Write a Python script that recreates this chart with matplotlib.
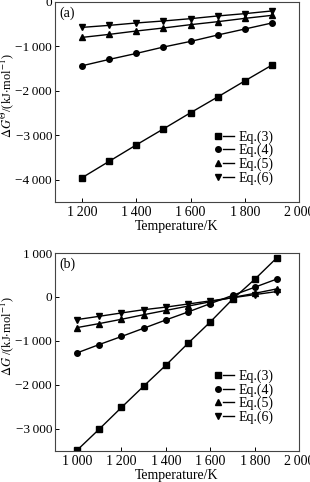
import matplotlib
matplotlib.use("Agg")
import matplotlib.pyplot as plt
from matplotlib.lines import Line2D
from matplotlib.legend_handler import HandlerTuple
from matplotlib.ticker import FuncFormatter

plt.rcParams['font.family'] = ['Liberation Serif', 'DejaVu Serif']
plt.rcParams['mathtext.fontset'] = 'stix'

# Panel (a) data
temp_a = [1200, 1300, 1400, 1500, 1600, 1700, 1800, 1900]
eq3_a = [-3960, -3590, -3220, -2860, -2495, -2140, -1778, -1422]
eq4_a = [-1438, -1295, -1160, -1016, -889, -745, -610, -474]
eq5_a = [-799, -731, -655, -587, -512, -445, -370, -302]
eq6_a = [-573, -528, -474, -429, -377, -316, -264, -203]

# Panel (b) data
temp_b = [1000, 1100, 1200, 1300, 1400, 1500, 1600, 1700, 1800, 1900]
eq3_b = [-3490, -3008, -2515, -2030, -1553, -1053, -568, -53, 402, 894]
eq4_b = [-1273, -1083, -900, -712, -523, -341, -151, 36, 222, 409]
eq5_b = [-697, -606, -508, -404, -306, -208, -110, -12, 83, 184]
eq6_b = [-515, -440, -364, -290, -231, -160, -89, -18, 53, 124]

labels = ['Eq.(3)', 'Eq.(4)', 'Eq.(5)', 'Eq.(6)']
markers = ['s', 'o', '^', 'v']

def fmt(v, pos):
    v = int(round(v))
    s = f"{abs(v):,}".replace(",", "\u2009")
    return ("\u2212" + s) if v < 0 else s

fig = plt.figure(figsize=(3.1, 4.82), dpi=100)
ax1 = fig.add_axes([0.177, 0.5815, 0.788, 0.4145])
ax2 = fig.add_axes([0.177, 0.065, 0.788, 0.410])

fs = 10

def draw(ax, x, series, xlim, ylim, xticks, yticks, ylabel, tag, ly, leg_y):
    for ys, m in zip(series, markers):
        ax.plot(x, ys, color='black', lw=1.0, marker=m, ms=4,
                markerfacecolor='black', markeredgecolor='black')
    ax.set_xlim(*xlim)
    ax.set_ylim(*ylim)
    ax.set_xticks(xticks)
    ax.set_yticks(yticks)
    ax.xaxis.set_major_formatter(FuncFormatter(fmt))
    ax.yaxis.set_major_formatter(FuncFormatter(fmt))
    ax.tick_params(axis='x', direction='in', length=3, width=0.7, labelsize=fs,
                   top=False, pad=3)
    ax.tick_params(axis='y', direction='in', length=3, width=0.7, labelsize=9.5,
                   right=False, pad=2)
    for sp in ax.spines.values():
        sp.set_linewidth(0.8)
        sp.set_color('#444444')
    ax.set_xlabel('Temperature/K', fontsize=fs, labelpad=1)
    ax.set_ylabel(ylabel, fontsize=9)
    ax.yaxis.set_label_coords(-0.158, ly)
    ax.text(0.02, 0.975, tag, transform=ax.transAxes, fontsize=fs,
            ha='left', va='top')
    handles = []
    for m in markers:
        hm = Line2D([], [], color='black', marker=m, ms=4, lw=0)
        hl = Line2D([], [], color='black', lw=1.0)
        handles.append((hm, hl))
    ax.legend(handles, labels, handler_map={tuple: HandlerTuple(ndivide=None, pad=0.0)},
              loc='lower right', bbox_to_anchor=(0.935, leg_y), frameon=False,
              fontsize=fs, handlelength=1.6, handletextpad=0.3,
              labelspacing=0.02, borderpad=0.2)

draw(ax1, temp_a, [eq3_a, eq4_a, eq5_a, eq6_a], (1100, 2000), (-4500, 0),
     [1200, 1400, 1600, 1800, 2000], [0, -1000, -2000, -3000, -4000],
     r'$\Delta G^{\Theta}$/(kJ$\cdot$mol$^{-1}$)', '(a)', 0.53, 0.035)
draw(ax2, temp_b, [eq3_b, eq4_b, eq5_b, eq6_b], (900, 2000), (-3500, 1000),
     [1000, 1200, 1400, 1600, 1800, 2000], [1000, 0, -1000, -2000, -3000],
     r'$\Delta G$ /(kJ$\cdot$mol$^{-1}$)', '(b)', 0.58, 0.085)

fig.savefig('out.png', dpi=100)
